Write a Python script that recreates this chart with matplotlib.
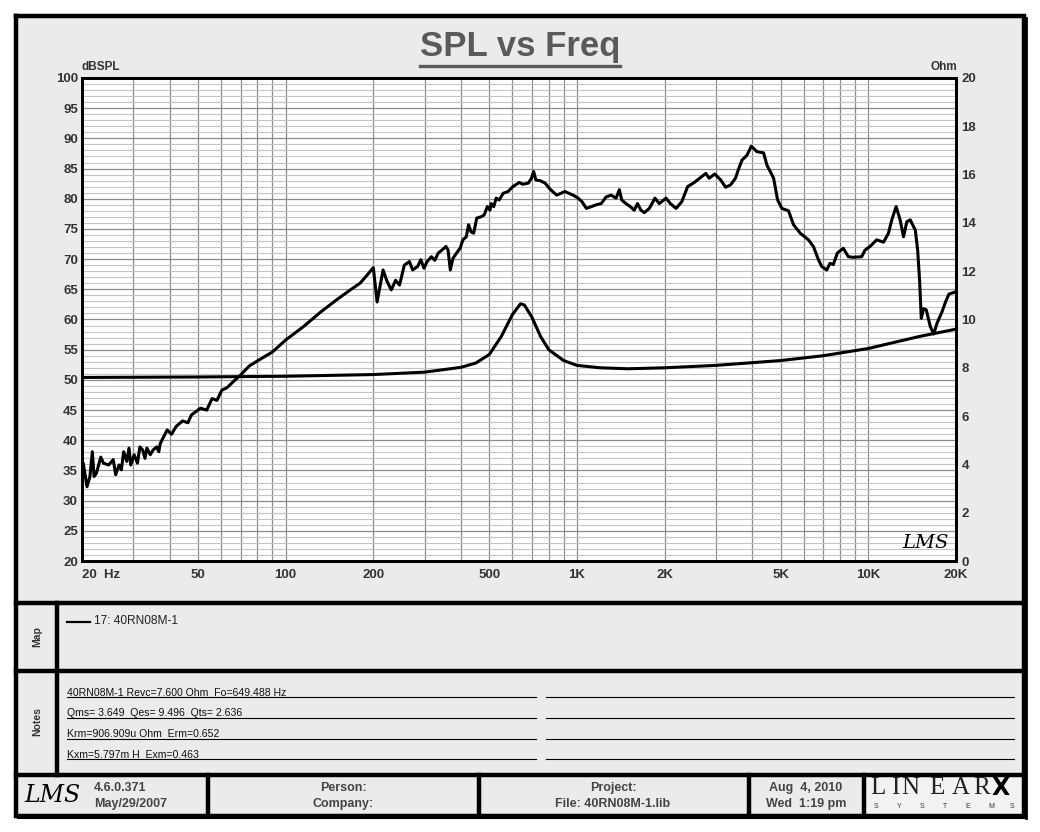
import matplotlib
matplotlib.use('Agg')
import matplotlib.pyplot as plt
from matplotlib.ticker import FixedLocator, MultipleLocator, NullFormatter

plt.rcParams['font.family'] = ['Liberation Sans', 'DejaVu Sans']

# SPL response (Hz, dB)
spl_freq = [20.0, 20.2, 20.8, 21.3, 21.7, 22.0, 22.4, 23.2, 23.7, 24.7, 25.6, 26.1, 26.8, 27.3,
            27.8, 28.5, 29.0, 29.4, 30.2, 31.0, 31.6, 32.3, 32.9, 33.4, 34.3, 35.1, 36.1, 36.7,
            37.1, 37.6, 39.2, 40.6, 42.1, 44.3, 46.2, 47.5, 51.0, 53.6, 55.9, 58.1, 60.4, 62.9,
            67.1, 70, 75, 81, 90, 100, 115, 131.6, 150, 166.7, 180, 190, 200, 206, 216, 223,
            230.5, 238.5, 246, 255.5, 266, 273, 284, 291, 298.5, 306, 316.5, 325, 334, 344, 355,
            361, 367.5, 375, 386, 397, 406, 417, 424.5, 433, 442, 453, 468, 480, 492.5, 503,
            507.5, 518, 528, 541, 558, 580, 602, 634, 651, 681, 698, 710, 723, 747, 777, 808,
            852, 881, 909, 938, 970, 1009, 1041, 1077, 1120, 1165, 1211, 1259, 1310, 1362,
            1398, 1424, 1473, 1524, 1572, 1614, 1658, 1703, 1772, 1852, 1916, 2022, 2092, 2188,
            2289, 2398, 2528, 2769, 2842, 2973, 3115, 3239, 3367, 3500, 3592, 3686, 3832, 3966,
            4146, 4370, 4486, 4731, 4883, 5050, 5323, 5537, 5837, 6230, 6480, 6742, 6919, 7200,
            7390, 7584, 7830, 8206, 8540, 8886, 9490, 9745, 10139, 10690, 11275, 11730, 12040,
            12460, 12860, 13210, 13560, 13930, 14500, 14770, 15000, 15200, 15480, 15810, 16330,
            16770, 17220, 17920, 18410, 18910, 20000]
spl_db = [36.0, 36.2, 32.3, 34.0, 38.1, 34.0, 34.5, 37.2, 36.2, 35.9, 36.8, 34.3, 35.9, 35.1,
          38.1, 36.5, 38.7, 35.9, 37.6, 36.2, 38.9, 38.4, 37.0, 38.7, 37.6, 38.4, 38.9, 38.1,
          39.4, 40.0, 41.7, 41.0, 42.3, 43.2, 42.9, 44.2, 45.3, 45.0, 46.9, 46.6, 48.3, 48.7,
          50.0, 50.8, 52.3, 53.3, 54.6, 56.6, 58.8, 61.2, 63.3, 64.9, 66.0, 67.3, 68.6, 62.9,
          68.2, 66.3, 64.9, 66.5, 65.7, 69.0, 69.6, 68.2, 68.8, 69.9, 68.5, 69.6, 70.4, 69.8,
          71.0, 71.5, 72.1, 71.5, 68.2, 70.1, 71.0, 71.8, 73.2, 73.7, 75.7, 74.5, 74.3, 76.8,
          77.0, 77.3, 78.7, 78.1, 79.2, 78.7, 80.1, 79.8, 80.9, 81.2, 82.0, 82.7, 82.4, 82.6,
          83.4, 84.5, 83.1, 83.0, 82.6, 81.6, 80.6, 80.9, 81.2, 80.9, 80.6, 80.1, 79.5, 78.4,
          78.7, 79.0, 79.2, 80.3, 80.6, 80.1, 81.5, 79.8, 79.2, 78.7, 78.1, 79.2, 78.1, 77.7,
          78.4, 80.1, 79.2, 80.1, 79.2, 78.4, 79.5, 82.0, 82.7, 84.2, 83.4, 84.1, 83.1, 81.9,
          82.3, 83.4, 85.0, 86.4, 87.2, 88.7, 87.8, 87.6, 85.6, 83.4, 79.8, 78.4, 78.0, 75.7,
          74.3, 73.2, 72.1, 69.9, 68.8, 68.2, 69.3, 69.1, 71.0, 71.8, 70.4, 70.3, 70.4, 71.5,
          72.1, 73.2, 72.8, 74.3, 76.5, 78.7, 76.5, 73.7, 76.2, 76.5, 74.8, 71.5, 66.5, 60.2,
          61.8, 61.6, 58.8, 57.6, 59.4, 61.3, 62.9, 64.2, 64.6]

# impedance (Hz, Ohm)
imp_freq = [20, 50, 100, 200, 300, 400, 450, 500, 550, 600, 640, 660, 700, 750, 800, 900,
            1000, 1200, 1500, 2000, 3000, 5000, 7000, 10000, 15000, 20000]
imp_ohm = [7.6, 7.62, 7.65, 7.72, 7.82, 8.02, 8.2, 8.55, 9.3, 10.2, 10.65, 10.6, 10.1, 9.3,
           8.75, 8.3, 8.1, 8.0, 7.96, 8.0, 8.1, 8.3, 8.5, 8.8, 9.3, 9.6]

x_ticks = [20, 50, 100, 200, 500, 1000, 2000, 5000, 10000, 20000]
x_labels = ['20  Hz', '50', '100', '200', '500', '1K', '2K', '5K', '10K', '20K']

notes = ['40RN08M-1 Revc=7.600 Ohm  Fo=649.488 Hz',
         'Qms= 3.649  Qes= 9.496  Qts= 2.636',
         'Krm=906.909u Ohm  Erm=0.652',
         'Kxm=5.797m H  Exm=0.463']

W, H = 1040, 832
fig = plt.figure(figsize=(W / 100, H / 100), dpi=100, facecolor='white')

# page overlay in pixel coords
bg = fig.add_axes([0, 0, 1, 1], zorder=0)
bg.set_xlim(0, W)
bg.set_ylim(H, 0)
bg.axis('off')
grey = '#ebebeb'
bg.add_patch(plt.Rectangle((16, 16), 1008, 800, facecolor=grey, edgecolor='none'))
bg.add_patch(plt.Rectangle((864, 776), 158, 40, facecolor='#f2f2f2', edgecolor='none'))
# frame
bg.plot([16, 1024, 1024, 16, 16], [16, 16, 816, 816, 16], color='black', lw=3.2,
        solid_joinstyle='miter')
bg.plot([1025.5, 1025.5], [18, 818], color='black', lw=2)
bg.plot([18, 1025.5], [818, 818], color='black', lw=1.5)
for yy in [603, 671, 774.5]:
    bg.plot([16, 1024], [yy, yy], color='black', lw=3.2)
bg.plot([57, 57], [603, 774.5], color='black', lw=3.2)
for xx in [208, 479, 749, 863.5]:
    bg.plot([xx, xx], [774.5, 816], color='black', lw=3.2)

# title
bg.text(520, 46.5, 'SPL vs Freq', ha='center', va='center', fontsize=25, fontweight='bold',
        color='#5a5a5a')
bg.plot([420, 620], [65.5, 65.5], color='#5a5a5a', lw=2.4)
bg.text(82, 67, 'dBSPL', ha='left', va='center', fontsize=8.5, fontweight='bold', color='#333333')
bg.text(957, 67, 'Ohm', ha='right', va='center', fontsize=8.5, fontweight='bold', color='#333333')

# map panel
bg.text(37, 637, 'Map', rotation=90, ha='center', va='center', fontsize=7.5,
        fontweight='bold', color='#333333')
bg.plot([67, 90], [621.5, 621.5], color='black', lw=1.6)
bg.text(94, 621.5, '17: 40RN08M-1', ha='left', va='center', fontsize=8.6, color='#222222')

# notes panel
bg.text(37, 722, 'Notes', rotation=90, ha='center', va='center', fontsize=7.5,
        fontweight='bold', color='#333333')
for i, line in enumerate(notes):
    yy = 697.3 + i * 20.7
    bg.text(67, yy - 4.8, line, ha='left', va='center', fontsize=7.6, color='#111111')
    bg.plot([67, 535.5], [yy, yy], color='black', lw=0.8)
    bg.plot([546, 1014], [yy, yy], color='black', lw=0.8)

# footer
ftxt = dict(fontsize=9, fontweight='bold', color='#444444', va='center')
bg.text(52, 796, 'LMS', ha='center', va='center', fontsize=17, style='italic',
        family='DejaVu Serif', color='black')
bg.text(94, 788, '4.6.0.371', ha='left', **ftxt)
bg.text(94, 804, 'May/29/2007', ha='left', **ftxt)
bg.text(343, 788, 'Person:', ha='center', **ftxt)
bg.text(343, 804, 'Company:', ha='center', **ftxt)
bg.text(613, 788, 'Project:', ha='center', **ftxt)
bg.text(613, 804, 'File: 40RN08M-1.lib', ha='center', **ftxt)
bg.text(806, 788, 'Aug  4, 2010', ha='center', **ftxt)
bg.text(806, 804, 'Wed  1:19 pm', ha='center', **ftxt)
logo_x = [878, 895, 910, 937, 961, 982, 1001]
for ch, xx in zip('LINEAR', logo_x):
    bg.text(xx, 788, ch, ha='center', va='center', fontsize=18, family='Liberation Serif',
            color='#222222', fontweight='light')
bg.text(logo_x[-1], 788, 'X', ha='center', va='center', fontsize=17, fontweight='heavy',
        family='DejaVu Sans', color='black')
for ch, xx in zip('SYSTEMS', [876, 899, 922, 945, 968, 991, 1012]):
    bg.text(xx, 806, ch, ha='center', va='center', fontsize=5, color='#333333')

# plot axes
ax = fig.add_axes([82 / W, 1 - 561 / H, 874 / W, 483 / H], zorder=2)
ax.set_facecolor('white')
ax.set_xscale('log')
ax.set_xlim(20, 20000)
ax.set_ylim(20, 100)
ax.yaxis.set_major_locator(MultipleLocator(5))
ax.yaxis.set_minor_locator(MultipleLocator(1))
minor_x = [m * 10 ** d for d in range(1, 5) for m in range(2, 10)]
minor_x = [v for v in minor_x if 20 < v < 20000]
ax.xaxis.set_major_locator(FixedLocator(x_ticks))
ax.xaxis.set_minor_locator(FixedLocator(minor_x))
ax.xaxis.set_minor_formatter(NullFormatter())
ax.set_xticklabels(x_labels)
ax.xaxis.get_majorticklabels()[0].set_horizontalalignment('left')
ax.grid(which='minor', axis='y', color='#c4c4c4', lw=0.8)
ax.grid(which='major', axis='y', color='#8c8c8c', lw=0.9)
ax.grid(which='both', axis='x', color='#8c8c8c', lw=0.9)
ax.tick_params(which='both', length=0)
ax.tick_params(axis='x', pad=6)
ax.tick_params(axis='y', pad=3)
for lab in ax.get_xticklabels() + ax.get_yticklabels():
    lab.set_fontweight('bold')
    lab.set_fontsize(9.5)
    lab.set_color('#333333')
for s in ax.spines.values():
    s.set_linewidth(2)
    s.set_color('black')
ax.plot(spl_freq, spl_db, color='black', lw=2.2, solid_joinstyle='round')

ax2 = ax.twinx()
ax2.set_ylim(0, 20)
ax2.yaxis.set_major_locator(MultipleLocator(2))
ax2.tick_params(length=0, pad=4)
for lab in ax2.get_yticklabels():
    lab.set_fontweight('bold')
    lab.set_fontsize(9.5)
    lab.set_color('#333333')
for s in ax2.spines.values():
    s.set_linewidth(2)
ax2.plot(imp_freq, imp_ohm, color='black', lw=2.2)
ax2.text(925, 543, 'LMS', transform=bg.transData, ha='center', va='center', fontsize=14,
         style='italic', family='DejaVu Serif', color='black')

fig.savefig('out.png', dpi=100, facecolor='white')
